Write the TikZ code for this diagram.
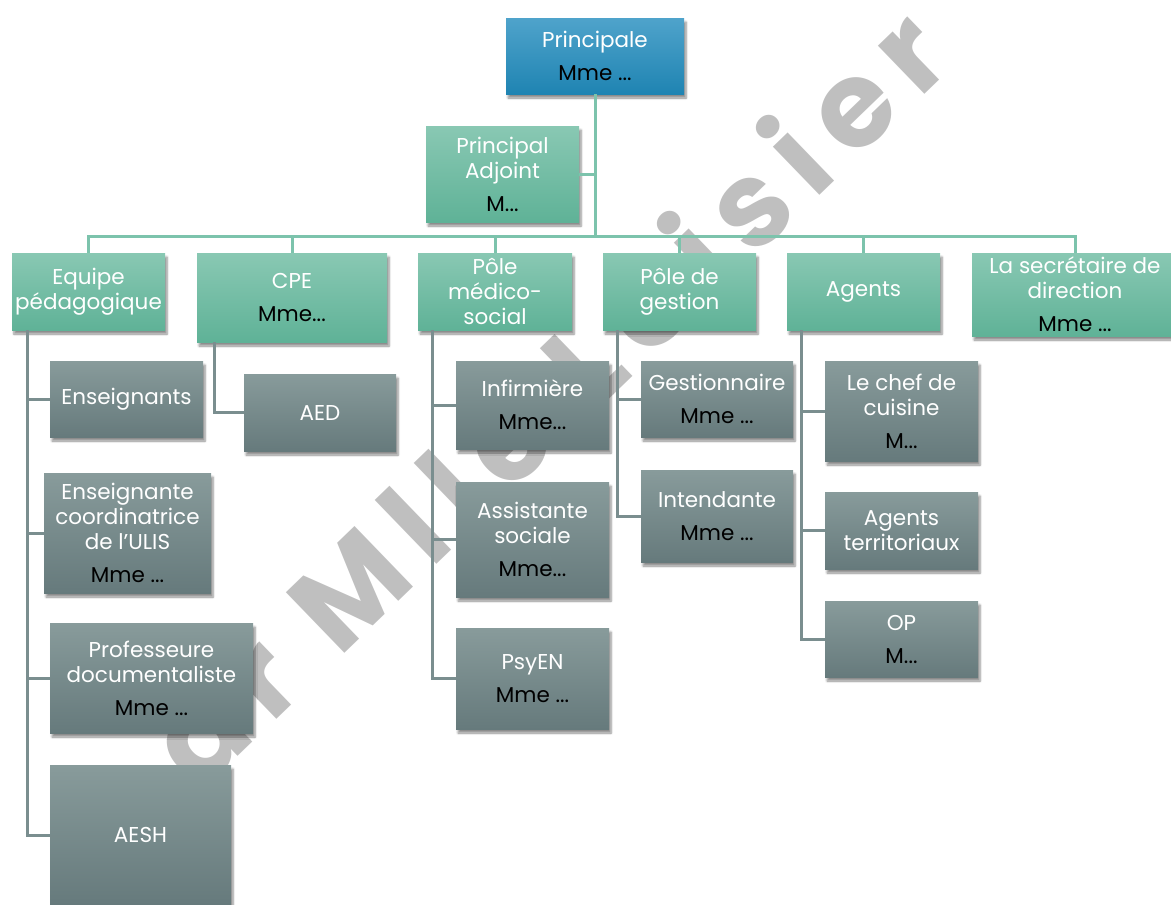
\documentclass[tikz,border=0pt]{standalone}
\usepackage{fontspec}
\setmainfont{Poppins}
\usepackage{xcolor}
\usepackage{tikz}
\usetikzlibrary{calc,positioning,shadows.blur}
\definecolor{bluetop}{HTML}{4FA3CB}
\definecolor{bluebot}{HTML}{1F84B2}
\definecolor{greentop}{HTML}{89C8B3}
\definecolor{greenbot}{HTML}{5FB297}
\definecolor{graytop}{HTML}{889B9B}
\definecolor{graybot}{HTML}{667A7C}
\definecolor{greenline}{HTML}{7CC3AC}
\definecolor{grayline}{HTML}{7A8E8F}
\newcommand{\who}[2]{#1\\[8pt]\textcolor{black}{#2}}

\begin{document}
\begin{tikzpicture}[
    x=1pt, y=-1pt,
    box/.style={rectangle, inner sep=0, align=center, text=white,
        font=\fontsize{21.5}{25}\selectfont,
        blur shadow={shadow xshift=2pt, shadow yshift=-4pt, shadow blur steps=6, shadow opacity=45}},
    head/.style={box, top color=bluetop, bottom color=bluebot},
    unit/.style={box, top color=greentop, bottom color=greenbot},
    staff/.style={box, top color=graytop, bottom color=graybot},
    size/.style 2 args={minimum width=#1pt, minimum height=#2pt},
    busline/.style={draw=greenline, line width=3pt},
    subline/.style={draw=grayline, line width=3pt}]
\useasboundingbox (0,0) rectangle (1171,905);

\node[rotate=44, text=black!25, font=\fontsize{120}{120}\selectfont\bfseries\addfontfeature{LetterSpace=15}] (sign) at (520,440) {par Mlle Loisier};

\coordinate (bus) at (595,236);

\node[head, size={178}{76}] (princ) at (595,56) {\who{Principale}{Mme ...}};
\node[unit, size={153}{96}] (adj) at (502.5,174) {\who{Principal\\Adjoint}{M...}};

\node[unit, size={153}{77}] (equipe) at (88.5,291.5) {Equipe\\pédagogique};
\node[unit, size={190}{89}] (cpe) at (292,297.5) {\who{CPE}{Mme...}};
\node[unit, size={154}{77}] (medico) at (495,291.5) {Pôle\\médico-\\social};
\node[unit, size={153}{77}] (gestion) at (679.5,291.5) {Pôle de\\gestion};
\node[unit, size={153}{77}] (agents) at (863.5,291.5) {Agents};
\node[unit, size={206}{83}] (secr) at (1075,294.5) {\who{La secrétaire de\\direction}{Mme ...}};

\node[staff, size={153}{76}] (ens) at (126.5,399) {Enseignants};
\node[staff, size={167}{120}] (ulis) at (127.5,533) {\who{Enseignante\\coordinatrice\\de l'ULIS}{Mme ...}};
\node[staff, size={203}{110}] (doc) at (151.5,678) {\who{Professeure\\documentaliste}{Mme ...}};
\node[staff, size={181}{140}] (aesh) at (140.5,835) {AESH};

\node[staff, size={152}{77}] (aed) at (320,412.5) {AED};

\node[staff, size={153}{88}] (infi) at (532.5,405) {\who{Infirmière}{Mme...}};
\node[staff, size={153}{115}] (assist) at (532.5,539.5) {\who{Assistante\\sociale}{Mme...}};
\node[staff, size={153}{101}] (psy) at (532.5,678.5) {\who{PsyEN}{Mme ...}};

\node[staff, size={152}{76}] (gest) at (717,399) {\who{Gestionnaire}{Mme ...}};
\node[staff, size={152}{92}] (inten) at (717,516) {\who{Intendante}{Mme ...}};

\node[staff, size={153}{100}] (chef) at (901.5,411) {\who{Le chef de\\cuisine}{M...}};
\node[staff, size={153}{77}] (terr) at (901.5,530.5) {Agents\\territoriaux};
\node[staff, size={153}{76}] (op) at (901.5,639) {\who{OP}{M...}};

\path[busline] (princ.south) -- (bus);
\path[busline] (adj.east) -- (adj.east -| bus);
\path[busline] (equipe.north) |- (bus) -| (secr.north);
\foreach \n in {cpe,medico,gestion,agents}
    \path[busline] (\n.north) -- (\n.north |- bus);

\coordinate (tEq) at ([xshift=16pt]equipe.south west);
\coordinate (tCpe) at ([xshift=18pt]cpe.south west);
\coordinate (tMed) at ([xshift=15pt]medico.south west);
\coordinate (tGes) at ([xshift=15pt]gestion.south west);
\coordinate (tAg) at ([xshift=15pt]agents.south west);

\path[subline] (tEq) |- (aesh.west);
\foreach \c in {ens,ulis,doc}
    \path[subline] (\c.west) -- (\c.west -| tEq);
\path[subline] (tCpe) |- (aed.west);
\path[subline] (tMed) |- (psy.west);
\foreach \c in {infi,assist}
    \path[subline] (\c.west) -- (\c.west -| tMed);
\path[subline] (tGes) |- (inten.west);
\path[subline] (gest.west) -- (gest.west -| tGes);
\path[subline] (tAg) |- (op.west);
\foreach \c in {chef,terr}
    \path[subline] (\c.west) -- (\c.west -| tAg);

\end{tikzpicture}
\end{document}
